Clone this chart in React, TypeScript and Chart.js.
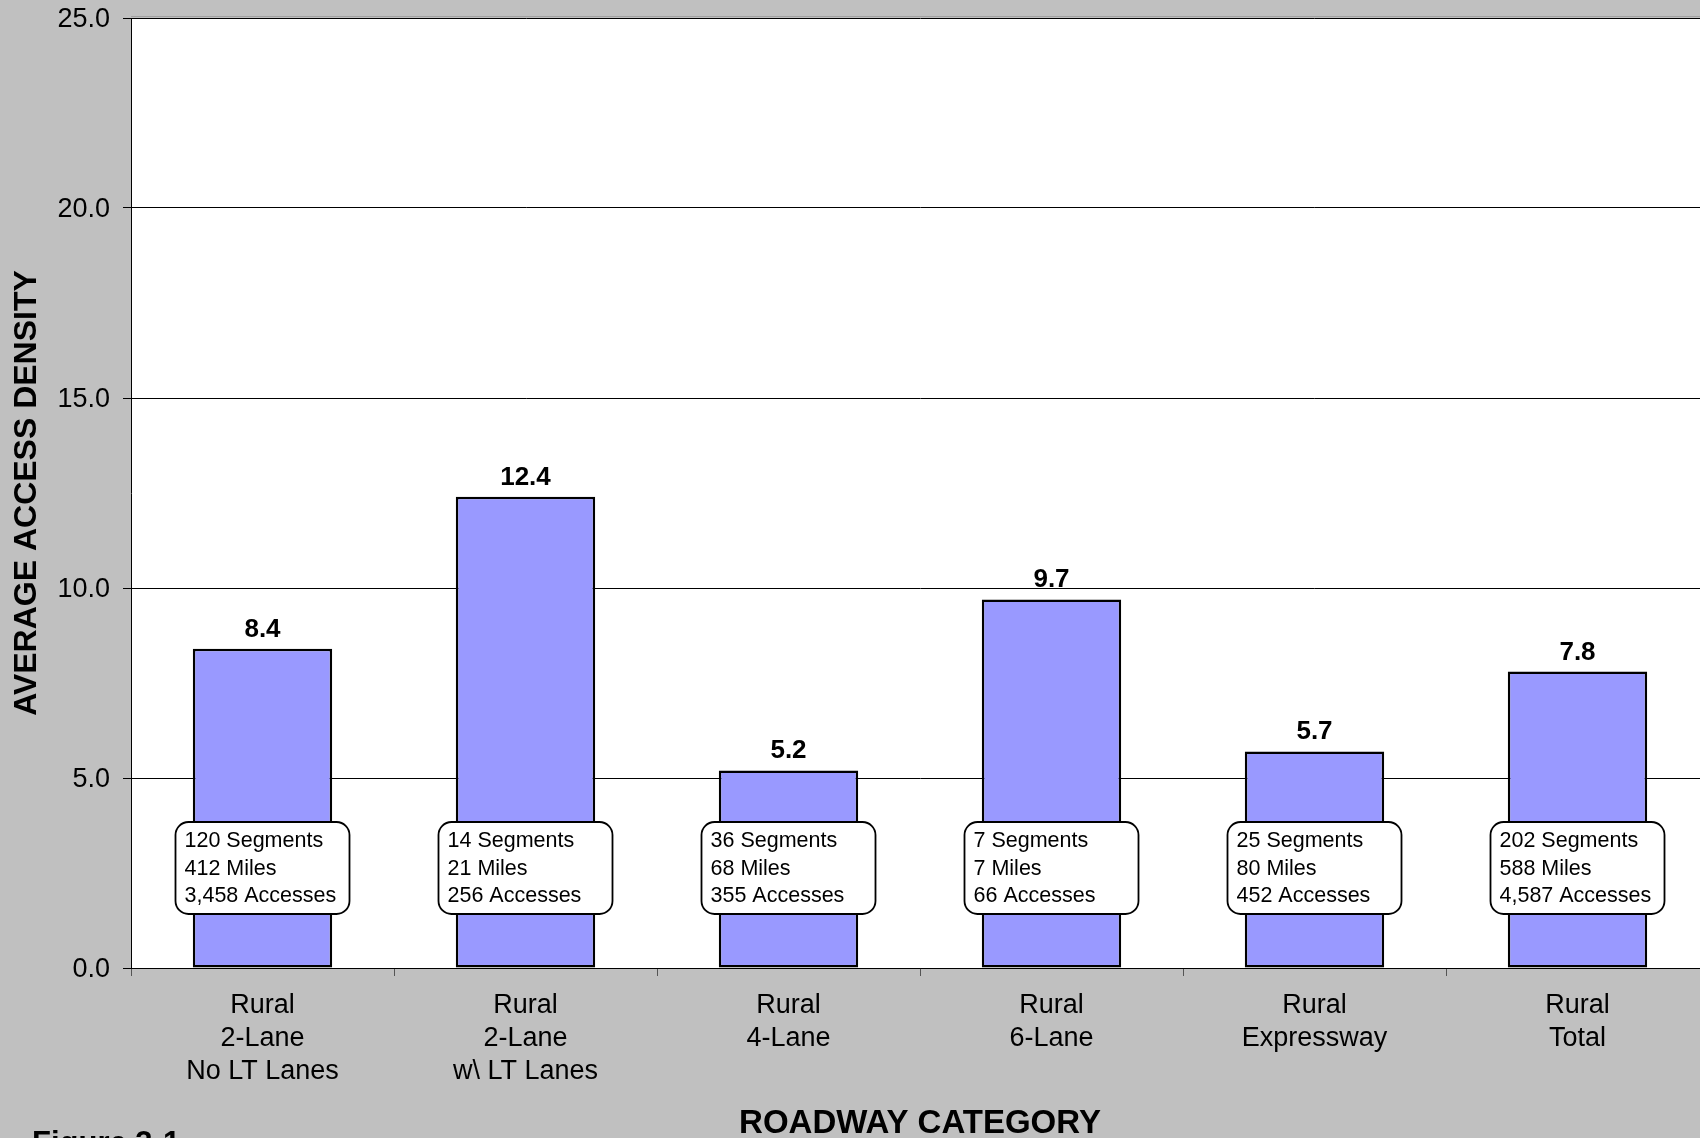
import React, { useEffect, useRef } from "react";
import { Chart, registerables } from "chart.js";

Chart.register(...registerables);

const FONT = "'Liberation Sans', Arial, Helvetica, sans-serif";

// Roadway categories (multi-line tick labels)
const categories: string[][] = [
  ["Rural", "2-Lane", "No LT Lanes"],
  ["Rural", "2-Lane", "w\\ LT Lanes"],
  ["Rural", "4-Lane"],
  ["Rural", "6-Lane"],
  ["Rural", "Expressway"],
  ["Rural", "Total"],
];

// Average access density per category
const density = [8.4, 12.4, 5.2, 9.7, 5.7, 7.8];

// Sample sizes shown in the call-out boxes
const segments = [120, 14, 36, 7, 25, 202];
const miles = [412, 21, 68, 7, 80, 588];
const accesses = [3458, 256, 355, 66, 452, 4587];

const yTicks = [0, 5, 10, 15, 20, 25];

const fmt = (n: number) => n.toLocaleString("en-US");

const backdrop = {
  id: "backdrop",
  beforeDraw(chart: any) {
    const { ctx, width, height, chartArea: a } = chart;
    ctx.save();
    ctx.fillStyle = "#c0c0c0";
    ctx.fillRect(0, 0, width, height);
    ctx.fillStyle = "#ffffff";
    ctx.fillRect(a.left, a.top, a.right - a.left, a.bottom - a.top);
    // faint shadow line along the top edge of the plot
    ctx.fillStyle = "#a0a0a0";
    ctx.fillRect(a.left, a.top - 2, a.right - a.left, 1);
    ctx.restore();
  },
};

const annotations = {
  id: "annotations",
  afterDatasetsDraw(chart: any) {
    const { ctx, chartArea } = chart;
    const meta = chart.getDatasetMeta(0);
    ctx.save();
    meta.data.forEach((bar: any, i: number) => {
      const { x, y } = bar.getProps(["x", "y"], true);

      // value above the bar
      ctx.fillStyle = "#000";
      ctx.font = `bold 26px ${FONT}`;
      ctx.textAlign = "center";
      ctx.textBaseline = "alphabetic";
      ctx.fillText(density[i].toFixed(1), x, y - 12);

      // rounded call-out box with sample counts
      const bw = 174;
      const bh = 92;
      const left = x - bw / 2;
      const top = chartArea.bottom - 146;
      ctx.beginPath();
      ctx.roundRect(left, top, bw, bh, 13);
      ctx.fillStyle = "#ffffff";
      ctx.fill();
      ctx.lineWidth = 1.8;
      ctx.strokeStyle = "#000";
      ctx.stroke();

      ctx.fillStyle = "#000";
      ctx.font = `21.5px ${FONT}`;
      ctx.textAlign = "left";
      const lines = [
        `${fmt(segments[i])} Segments`,
        `${fmt(miles[i])} Miles`,
        `${fmt(accesses[i])} Accesses`,
      ];
      lines.forEach((t, k) => ctx.fillText(t, left + 9, top + 25 + k * 27.5));
    });
    ctx.restore();
  },
  afterDraw(chart: any) {
    const { ctx } = chart;
    ctx.save();
    ctx.fillStyle = "#000";
    ctx.font = `bold 31px ${FONT}`;
    ctx.textAlign = "left";
    ctx.textBaseline = "alphabetic";
    ctx.fillText("Figure 3-1", 32, 1153);
    ctx.restore();
  },
};

export default function App() {
  const ref = useRef<HTMLCanvasElement>(null);

  useEffect(() => {
    const canvas = ref.current;
    if (!canvas) return;
    const chart = new Chart(canvas, {
      type: "bar",
      data: {
        labels: categories,
        datasets: [
          {
            data: density,
            backgroundColor: "#9999ff",
            borderColor: "#000000",
            borderWidth: 2.5,
            borderSkipped: false,
            barPercentage: 0.53,
            categoryPercentage: 1,
          },
        ],
      },
      options: {
        animation: false,
        responsive: false,
        devicePixelRatio: 1,
        layout: { padding: { top: 18, right: 11, left: 0, bottom: 0 } },
        plugins: {
          legend: { display: false },
          tooltip: { enabled: false },
        },
        scales: {
          x: {
            offset: true,
            grid: {
              offset: true,
              drawOnChartArea: false,
              drawTicks: true,
              tickLength: 8,
              color: "#555555",
              tickColor: "#555555",
            },
            border: { color: "#000000", width: 1 },
            ticks: {
              color: "#000000",
              font: { family: FONT, size: 27, lineHeight: 1.22 },
              padding: 13,
              maxRotation: 0,
              autoSkip: false,
            },
            title: {
              display: true,
              text: "ROADWAY CATEGORY",
              color: "#000000",
              font: { family: FONT, size: 33, weight: "bold", lineHeight: 0.85 },
              padding: { top: 0, bottom: 0 },
            },
            afterFit: (s: any) => {
              s.height = 170;
            },
          },
          y: {
            min: 0,
            max: 25,
            afterBuildTicks: (s: any) => {
              s.ticks = yTicks.map((v) => ({ value: v }));
            },
            ticks: {
              color: "#000000",
              font: { family: FONT, size: 27, lineHeight: 0.3 },
              padding: 13,
              labelOffset: 1.5,
              callback: (v: any) => Number(v).toFixed(1),
            },
            grid: { color: "#000000", lineWidth: 1, tickLength: 8 },
            border: { color: "#000000", width: 1 },
            title: {
              display: true,
              text: "AVERAGE ACCESS DENSITY",
              color: "#000000",
              font: { family: FONT, size: 32, weight: "bold", lineHeight: 1 },
              padding: { top: 11, bottom: 0 },
            },
            afterFit: (s: any) => {
              s.width = 131;
            },
          },
        },
      },
      plugins: [backdrop, annotations],
    });
    return () => chart.destroy();
  }, []);

  return (
    <div
      style={{
        position: "fixed",
        left: 0,
        top: 0,
        width: 1700,
        height: 1138,
        overflow: "hidden",
        background: "#c0c0c0",
      }}
    >
      <canvas ref={ref} width={1720} height={1138} style={{ display: "block" }} />
    </div>
  );
}
